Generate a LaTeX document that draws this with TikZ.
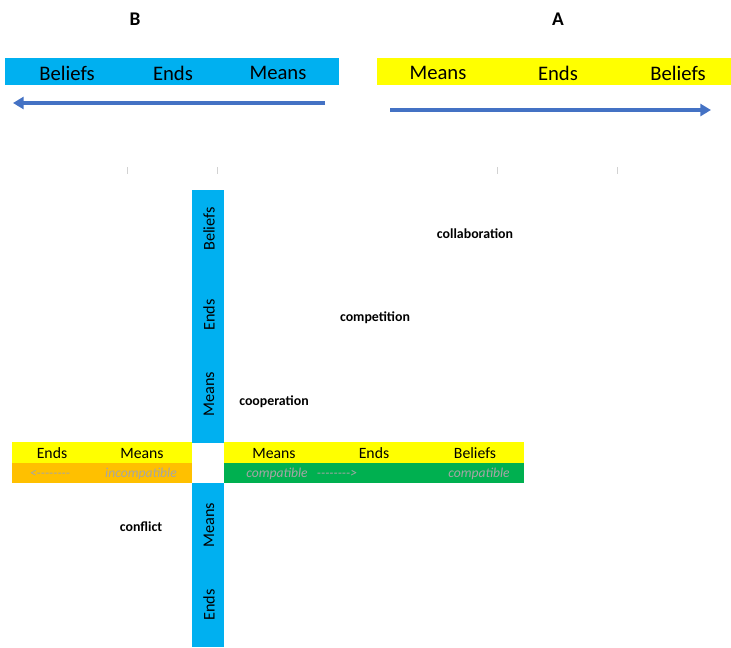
\documentclass[tikz,border=0pt]{standalone}
\usepackage{fontspec}
\setmainfont{Carlito}
\usepackage{tikz}
\usetikzlibrary{arrows.meta}

\definecolor{barblue}{HTML}{00B0F0}
\definecolor{baryellow}{HTML}{FFFF00}
\definecolor{barorange}{HTML}{FFC000}
\definecolor{bargreen}{HTML}{00B050}
\definecolor{arrowblue}{HTML}{4472C4}
\definecolor{hintgray}{HTML}{A6A6A6}

\tikzset{
  sidelabel/.style={font=\fontsize{14.5}{16}\selectfont\bfseries},
  barlabel/.style={font=\fontsize{15.5}{18}\selectfont},
  rowlabel/.style={font=\fontsize{11.8}{14}\selectfont},
  axislabel/.style={font=\fontsize{12.2}{14}\selectfont, rotate=90},
  modelabel/.style={font=\fontsize{10.4}{12}\selectfont\bfseries},
  hintlabel/.style={font=\fontsize{10.2}{12}\selectfont\itshape, text=hintgray},
  flowarrow/.style={arrowblue, line width=2.8pt, -{Triangle[length=8pt,width=9pt]}},
}

\newcommand{\hyphrun}{-{}-{}-{}-{}-{}-{}-{}-}

\begin{document}
\begin{tikzpicture}[x=0.75pt,y=-0.75pt]
\useasboundingbox (0,0) rectangle (731,647);

% Side names
\node[sidelabel] (nameB) at (135,19) {B};
\node[sidelabel] (nameA) at (558,19) {A};

% Top bars
\fill[barblue] (5,58) rectangle (339,85);
\fill[baryellow] (377,58) rectangle (731,85);
\node[barlabel] (bBeliefs) at (67,73) {Beliefs};
\node[barlabel] (bEnds) at (173,73) {Ends};
\node[barlabel] (bMeans) at (278,73) {Means};
\node[barlabel] (aMeans) at (438,73) {Means};
\node[barlabel] (aEnds) at (558,73) {Ends};
\node[barlabel] (aBeliefs) at (678,73) {Beliefs};

% Direction arrows
\coordinate (bStart) at (325,103);
\coordinate (bEnd) at (13,103);
\coordinate (aStart) at (390,110);
\coordinate (aEnd) at (711,110);
\draw[flowarrow] (bStart) -- (bEnd);
\draw[flowarrow] (aStart) -- (aEnd);

% Faint ticks
\foreach \tx in {127,217,497,617}
  \draw[gray!35, line width=0.6pt] (\tx,167) -- (\tx,174);

% Vertical axis bar
\fill[barblue] (192,190) rectangle (224,443);
\fill[barblue] (192,483) rectangle (224,647);
\node[axislabel] (vBeliefs) at (209,229) {Beliefs};
\node[axislabel] (vEnds) at (209,315) {Ends};
\node[axislabel] (vMeans) at (209,394) {Means};
\node[axislabel] (vMeansLow) at (209,525) {Means};
\node[axislabel] (vEndsLow) at (209,605) {Ends};

% Horizontal axis rows
\fill[baryellow] (12,442) rectangle (192,463);
\fill[baryellow] (224,442) rectangle (524,463);
\fill[barorange] (12,463) rectangle (192,483);
\fill[bargreen] (224,463) rectangle (524,483);
\node[rowlabel] (hEnds) at (52,453) {Ends};
\node[rowlabel] (hMeans) at (142,453) {Means};
\node[rowlabel] (hMeansR) at (274,453) {Means};
\node[rowlabel] (hEndsR) at (374,453) {Ends};
\node[rowlabel] (hBeliefsR) at (475,453) {Beliefs};

% Compatibility hints
\node[hintlabel] (leftDash) at (50,474) {<\hyphrun};
\node[hintlabel] (incompat) at (141,474) {incompatible};
\node[hintlabel] (compatA) at (277,474) {compatible};
\node[hintlabel] (rightDash) at (337,474) {\hyphrun>};
\node[hintlabel] (compatB) at (479,474) {compatible};

% Modes
\node[modelabel] (collab) at (475,234) {collaboration};
\node[modelabel] (compet) at (375,318) {competition};
\node[modelabel] (coop) at (274,402) {cooperation};
\node[modelabel] (confl) at (141,527) {conflict};

\end{tikzpicture}
\end{document}
